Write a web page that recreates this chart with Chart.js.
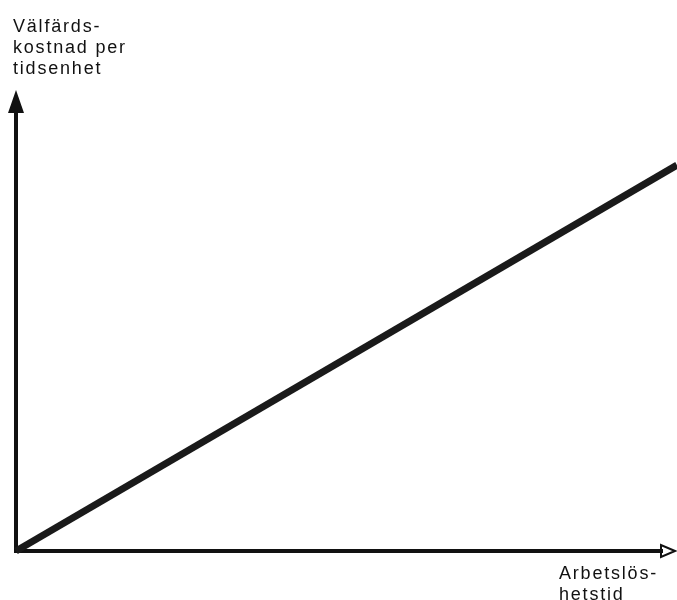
<!DOCTYPE html>
<html>
<head>
<meta charset="utf-8">
<script src="https://cdn.jsdelivr.net/npm/chart.js@4"></script>
<style>
  html, body { margin: 0; padding: 0; background: #fff; }
  #wrap { width: 677px; height: 600px; position: relative; }
</style>
</head>
<body>
<div id="wrap"><canvas id="chart"></canvas></div>
<script>
// --- Data ---
const timeValues = [0, 10];        // arbetslöshetstid (godtycklig skala)
const costValues = [0, 8.37];      // välfärdskostnad per tidsenhet
const yLabelLines = ["Välfärds-", "kostnad per", "tidsenhet"];
const xLabelLines = ["Arbetslös-", "hetstid"];

const points = timeValues.map((t, i) => ({ x: t, y: costValues[i] }));

// --- Axes with arrowheads and labels ---
const arrowAxes = {
  id: "arrowAxes",
  beforeDatasetsDraw(chart) {
    const { ctx, scales } = chart;
    const x0 = scales.x.getPixelForValue(0);
    const x1 = scales.x.getPixelForValue(10);
    const y0 = scales.y.getPixelForValue(0);
    const y1 = scales.y.getPixelForValue(10);
    ctx.save();
    ctx.strokeStyle = "#111";
    ctx.fillStyle = "#111";
    ctx.lineWidth = 4;
    // y axis
    ctx.beginPath();
    ctx.moveTo(x0, y0 + 2);
    ctx.lineTo(x0, y1 + 18);
    ctx.stroke();
    ctx.beginPath();
    ctx.moveTo(x0, y1);
    ctx.lineTo(x0 - 8, y1 + 23);
    ctx.lineTo(x0 + 8, y1 + 23);
    ctx.closePath();
    ctx.fill();
    // x axis
    ctx.beginPath();
    ctx.moveTo(x0 - 2, y0);
    ctx.lineTo(x1 - 14, y0);
    ctx.stroke();
    ctx.lineWidth = 2;
    ctx.beginPath();
    ctx.moveTo(x1 - 2, y0);
    ctx.lineTo(x1 - 16, y0 - 6);
    ctx.lineTo(x1 - 16, y0 + 6);
    ctx.closePath();
    ctx.stroke();
    ctx.restore();
  },
  afterDraw(chart) {
    const { ctx } = chart;
    ctx.save();
    ctx.fillStyle = "#111";
    ctx.font = "18px 'Liberation Sans', Arial, sans-serif";
    ctx.letterSpacing = "1.8px";
    ctx.textBaseline = "alphabetic";
    yLabelLines.forEach((s, i) => ctx.fillText(s, 13, 32 + i * 21));
    xLabelLines.forEach((s, i) => ctx.fillText(s, 559, 579 + i * 21));
    ctx.restore();
  }
};

new Chart(document.getElementById("chart"), {
  type: "scatter",
  data: {
    datasets: [{
      data: points,
      showLine: true,
      borderColor: "#1a1a1a",
      borderWidth: 7,
      pointRadius: 0,
      clip: false
    }]
  },
  options: {
    responsive: true,
    maintainAspectRatio: false,
    animation: false,
    layout: { padding: { left: 16, right: 0, top: 90, bottom: 49 } },
    plugins: { legend: { display: false }, tooltip: { enabled: false } },
    scales: {
      x: { type: "linear", min: 0, max: 10, display: false },
      y: { type: "linear", min: 0, max: 10, display: false }
    }
  },
  plugins: [arrowAxes]
});
</script>
</body>
</html>
